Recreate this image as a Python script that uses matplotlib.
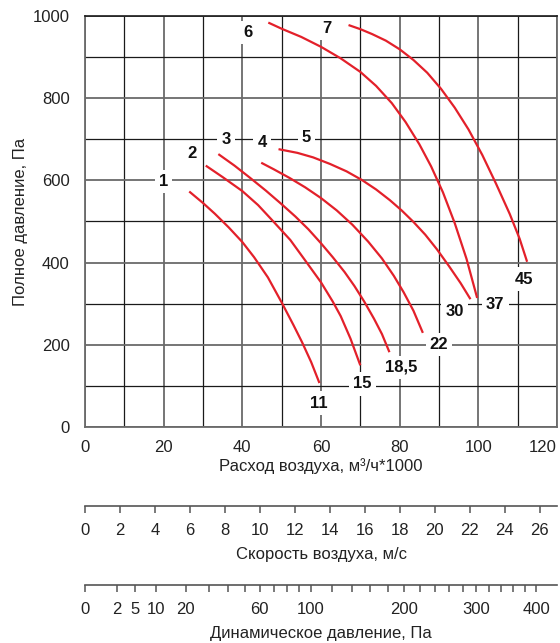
import numpy as np
import matplotlib.pyplot as plt

plt.rcParams['font.family'] = ['Liberation Sans', 'DejaVu Sans']

# fan curves: air flow (thousand m3/h) vs total pressure (Pa)
q1 = [26.5, 30, 33, 36.5, 40, 43, 46.5, 50, 53, 55.2, 57.5, 59.6]
p1 = [573, 545, 519, 486, 450, 413, 364, 303, 248, 206, 158, 107]
q2 = [30.7, 35, 40, 44, 47.6, 52.2, 56, 60, 63, 65, 67.5, 70]
p2 = [636, 608, 574, 540, 503, 455, 405, 352, 305, 270, 215, 150]
q3 = [33.9, 38, 42, 46, 50, 53.5, 56.8, 60, 63, 66, 68.5, 71, 73.5, 75.5, 77.4]
p3 = [664, 636, 606, 575, 542, 512, 481, 447, 413, 377, 343, 305, 263, 226, 182]
q4 = [44.8, 48, 52, 56, 60, 64, 68, 72, 75.5, 78.5, 81, 83.5, 85.9]
p4 = [643, 627, 606, 583, 557, 527, 492, 451, 410, 368, 328, 283, 229]
q5 = [49.2, 54, 58, 62.3, 66.5, 70.4, 74, 77.5, 80.5, 83.5, 86.5, 89.5, 92.5, 95.5, 98]
p5 = [676, 667, 656, 640, 622, 601, 578, 552, 527, 499, 468, 432, 392, 350, 311]
q6 = [46.6, 50, 55, 60, 65, 70, 74, 78, 81.5, 85, 88, 91, 94, 97, 99.7]
p6 = [984, 969, 949, 925, 897, 864, 830, 788, 742, 688, 634, 571, 496, 409, 314]
q7 = [67, 70, 73, 76.5, 80, 83.5, 87, 90.5, 94, 97.5, 101, 104.5, 108, 110.5, 112.4]
p7 = [978, 968, 956, 940, 919, 893, 862, 823, 777, 724, 662, 592, 518, 458, 402]

curves = [(q1, p1), (q2, p2), (q3, p3), (q4, p4), (q5, p5), (q6, p6), (q7, p7)]
curve_nums = ['1', '2', '3', '4', '5', '6', '7']
num_xy = [(20, 598), (27.3, 665), (35.8, 700), (45, 692), (56.3, 704), (41.5, 960), (61.5, 970)]
power_labels = ['11', '15', '18,5', '22', '30', '37', '45']
power_xy = [(59.5, 58), (70.5, 105), (80.5, 145), (90, 200), (94, 280), (104.3, 298), (111.6, 360)]

speed_ticks = list(range(0, 27, 2))
dyn_ticks = [0, 2, 5, 10, 20, 30, 40, 50, 60, 70, 80, 90, 100, 120, 140, 160, 180, 200,
             220, 240, 260, 280, 300, 320, 340, 360, 380, 400]
dyn_labels = [0, 2, 5, 10, 20, 60, 100, 200, 300, 400]

W, H = 560, 643
fig = plt.figure(figsize=(W / 100, H / 100), dpi=100)
L, R = 85, 557
ax = fig.add_axes([L / W, 1 - 427 / H, (R - L) / W, 411 / H])

ax.set_xlim(0, 120)
ax.set_ylim(0, 1000)
ax.set_xticks(range(0, 121, 20))
ax.set_xticks(range(0, 121, 10), minor=True)
ax.set_yticks(range(0, 1001, 200))
ax.set_yticks(range(0, 1001, 100), minor=True)
ax.grid(which='major', color='#6a6a6a', lw=1.3)
ax.grid(which='minor', color='#1a1a1a', lw=0.9)
ax.tick_params(which='both', length=0, labelsize=12, colors='#222')
ax.tick_params(axis='y', pad=11)
ax.tick_params(axis='x', pad=9)
ax.get_xticklabels()[-1].set_ha('right')
ax.get_xticklabels()[-1].set_x(121.5)
for s in ['left', 'bottom', 'right']:
    ax.spines[s].set_color('#6a6a6a')
    ax.spines[s].set_linewidth(1.3)
ax.spines['top'].set_color('#1a1a1a')
ax.spines['top'].set_linewidth(1.2)
ax.set_axisbelow(True)

for q, p in curves:
    ax.plot(q, p, color='#e3202a', lw=1.6, solid_capstyle='butt', zorder=3)

box = dict(boxstyle='square,pad=0.25', fc='white', ec='none')
for t, (x, y) in zip(curve_nums, num_xy):
    ax.text(x, y, t, ha='center', va='center', fontsize=12, fontweight='bold',
            color='#111', bbox=box, zorder=4)
for t, (x, y) in zip(power_labels, power_xy):
    ax.text(x, y, t, ha='center', va='center', fontsize=12, fontweight='bold',
            color='#111', bbox=box, zorder=4)

ax.set_xlabel('Расход воздуха, м³/ч*1000', fontsize=12, color='#222')
ax.xaxis.set_label_coords(0.5, -0.075)
ax.set_ylabel('Полное давление, Па', fontsize=12, color='#222')
ax.yaxis.set_label_coords(-0.12, 0.5)


def scale_axis(y_px):
    a = fig.add_axes([L / W, 1 - y_px / H, (R - L) / W, 0.0001])
    a.set_facecolor('none')
    for s in ['left', 'right', 'top']:
        a.spines[s].set_visible(False)
    a.spines['bottom'].set_color('#555')
    a.spines['bottom'].set_linewidth(1.2)
    a.set_yticks([])
    a.tick_params(axis='x', direction='out', length=5, width=1.1, color='#555',
                  labelsize=12, labelcolor='#222', pad=7)
    return a


# air speed scale
sa = scale_axis(506)
sa.set_xlim(0, 27)
sa.set_xticks(speed_ticks)
sa.set_xlabel('Скорость воздуха, м/с', fontsize=12, color='#222', labelpad=7)

# dynamic pressure scale (p = 0.6 v^2)
da = scale_axis(585)
da.set_xscale('function', functions=(np.sqrt, np.square))
da.set_xlim(0, 0.6 * 27 ** 2)
da.set_xticks(dyn_ticks)
da.set_xticklabels([str(v) if v in dyn_labels else '' for v in dyn_ticks])
da.set_xlabel('Динамическое давление, Па', fontsize=12, color='#222', labelpad=7)

fig.savefig('out.png', dpi=100)
